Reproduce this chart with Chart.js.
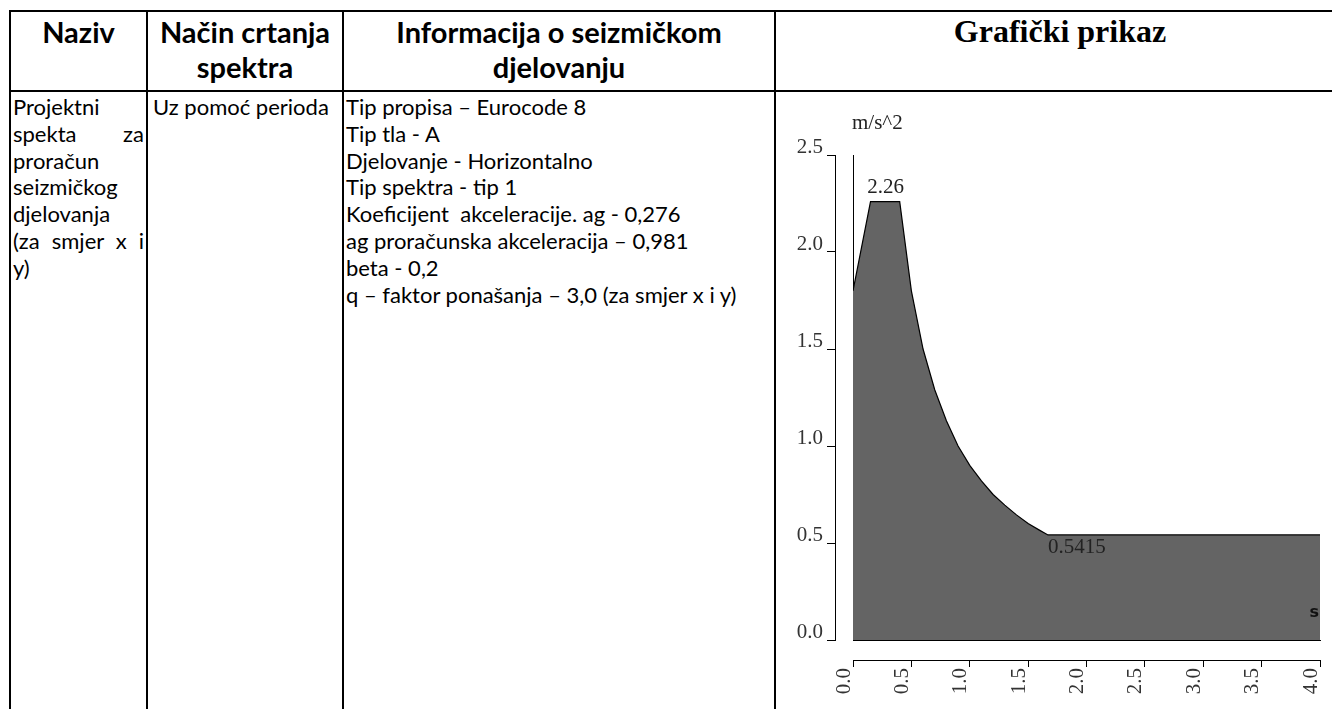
<!DOCTYPE html>
<html>
<head>
<meta charset="utf-8">
<title>Projektni spektar</title>
<script src="https://cdn.jsdelivr.net/npm/chart.js@4.4.1/dist/chart.umd.min.js"></script>
<style>
  html, body { margin: 0; padding: 0; background: #fff; width: 1332px; height: 709px; overflow: hidden; }
  .cell { position: absolute; box-sizing: border-box; border-left: 2px solid #000; border-top: 2px solid #000; color: #000; }
  .hd { font-family: Lato, sans-serif; font-weight: 700; font-size: 29px; line-height: 35px; text-align: center; padding-top: 2px; }
  .hd.serif { font-family: "Liberation Serif", serif; font-size: 32px; }
  .bd { font-family: Lato, sans-serif; font-size: 22px; line-height: 26.8px; padding: 2px 2px 0 2px; white-space: nowrap; }
  .j { text-align: justify; text-align-last: justify; }
  #chartBox { position: absolute; left: 776px; top: 92px; width: 556px; height: 617px; }
</style>
</head>
<body>
  <!-- zaglavlje -->
  <div class="cell hd" style="left:9px; top:10px; width:137px; height:82px;">Naziv</div>
  <div class="cell hd" style="left:146px; top:10px; width:196px; height:82px;">Način crtanja<br>spektra</div>
  <div class="cell hd" style="left:342px; top:10px; width:432px; height:82px;">Informacija o seizmičkom<br>djelovanju</div>
  <div class="cell hd serif" style="left:774px; top:10px; width:570px; height:82px;">Grafički prikaz</div>

  <!-- sadrzaj -->
  <div class="cell bd" style="left:9px; top:90px; width:137px; height:640px; white-space: normal;">
    <div>Projektni</div>
    <div class="j">spekta za</div>
    <div>proračun</div>
    <div>seizmičkog</div>
    <div>djelovanja</div>
    <div class="j">(za smjer x i</div>
    <div>y)</div>
  </div>
  <div class="cell bd" style="left:146px; top:90px; width:196px; height:640px; padding-left:5px;">Uz pomoć perioda</div>
  <div class="cell bd" style="left:342px; top:90px; width:432px; height:640px;">
    <div>Tip propisa – Eurocode 8</div>
    <div>Tip tla - A</div>
    <div>Djelovanje - Horizontalno</div>
    <div>Tip spektra - tip 1</div>
    <div>Koeficijent&nbsp; akceleracije. ag - 0,276</div>
    <div>ag proračunska akceleracija – 0,981</div>
    <div>beta - 0,2</div>
    <div>q – faktor ponašanja – 3,0 (za smjer x i y)</div>
  </div>
  <div class="cell" style="left:774px; top:90px; width:570px; height:640px;"></div>

  <div id="chartBox"><canvas id="spektarChart"></canvas></div>

<script>
// Podaci ocitani sa grafika
const periodi = [0, 0.15, 0.4, 0.5, 0.6, 0.7, 0.8, 0.9, 1.0, 1.1, 1.2, 1.3, 1.4, 1.5, 1.6, 1.67, 4.0];
const ubrzanja = [1.80, 2.26, 2.26, 1.80, 1.50, 1.29, 1.13, 1.00, 0.90, 0.82, 0.75, 0.695, 0.645, 0.60, 0.565, 0.5415, 0.5415];
const xOznake = [0, 0.5, 1.0, 1.5, 2.0, 2.5, 3.0, 3.5, 4.0];
const yOznake = [0, 0.5, 1.0, 1.5, 2.0, 2.5];
const vrijednostiNaGrafu = [
    { x: 0.28, y: 2.26, tekst: '2.26' },
    { x: 1.67, y: 0.5415, tekst: '0.5415' }
];

const serifFont = { family: '"Liberation Serif", "Times New Roman", serif', size: 21 };

// Tekstovi na grafu (vrijednosti i jedinice)
const oznakePlugin = {
    id: 'oznake',
    afterDatasetsDraw(chart) {
        const { ctx, chartArea, scales: { x, y } } = chart;
        ctx.save();
        ctx.font = '21px "Liberation Serif", serif';
        ctx.fillStyle = '#222';
        ctx.textBaseline = 'alphabetic';

        const vrh = vrijednostiNaGrafu[0];
        ctx.textAlign = 'center';
        ctx.fillText(vrh.tekst, x.getPixelForValue(vrh.x), y.getPixelForValue(vrh.y) - 9);

        const kraj = vrijednostiNaGrafu[1];
        ctx.textAlign = 'left';
        ctx.fillText(kraj.tekst, x.getPixelForValue(kraj.x), y.getPixelForValue(kraj.y) + 18);

        // jedinice osi
        ctx.fillText('m/s^2', chartArea.left - 1, chartArea.top - 26);
        ctx.font = 'bold 16px "DejaVu Sans", sans-serif';
        ctx.fillStyle = '#111';
        ctx.textAlign = 'right';
        ctx.fillText('s', chartArea.right - 1, chartArea.bottom - 23);
        ctx.restore();
    }
};

document.addEventListener('DOMContentLoaded', function () {
    const ctxSpektar = document.getElementById('spektarChart');
    if (!ctxSpektar) {
        console.error('Nema canvasa za graf.');
        return;
    }

    const tacke = periodi.map((t, i) => ({ x: t, y: ubrzanja[i] }));

    new Chart(ctxSpektar, {
        type: 'line',
        data: {
            datasets: [{
                label: 'Sd(T)',
                data: tacke,
                fill: 'origin',
                backgroundColor: '#646464',
                borderColor: '#000',
                borderWidth: 1.2,
                pointRadius: 0,
                tension: 0
            }]
        },
        options: {
            responsive: true,
            maintainAspectRatio: false,
            animation: false,
            layout: { padding: { top: 63, right: 12, bottom: 0, left: 0 } },
            plugins: {
                legend: { display: false },
                tooltip: { enabled: false }
            },
            scales: {
                x: {
                    type: 'linear',
                    position: 'bottom',
                    weight: 1,
                    min: xOznake[0],
                    max: xOznake[xOznake.length - 1],
                    afterBuildTicks: (s) => { s.ticks = xOznake.map(v => ({ value: v })); },
                    afterFit: (s) => { s.height = 49; s.paddingLeft = 0; s.paddingRight = 0; },
                    ticks: {
                        autoSkip: false,
                        minRotation: 90,
                        maxRotation: 90,
                        padding: 1,
                        labelOffset: -9,
                        color: '#333',
                        font: serifFont,
                        callback: (v) => Number(v).toFixed(1)
                    },
                    grid: { drawOnChartArea: false, tickLength: 7, color: '#000', lineWidth: 1 },
                    border: { color: '#000', width: 1 }
                },
                xRazmak: {
                    type: 'linear',
                    position: 'bottom',
                    weight: 0,
                    afterFit: (s) => { s.height = 20; s.paddingLeft = 0; s.paddingRight = 0; },
                    ticks: { display: false },
                    grid: { drawOnChartArea: false, drawTicks: false },
                    border: { color: '#000', width: 1 }
                },
                y: {
                    type: 'linear',
                    position: 'left',
                    weight: 1,
                    min: yOznake[0],
                    max: yOznake[yOznake.length - 1],
                    afterBuildTicks: (s) => { s.ticks = yOznake.map(v => ({ value: v })); },
                    afterFit: (s) => { s.width = 59; s.paddingTop = 0; s.paddingBottom = 0; },
                    ticks: {
                        padding: 4,
                        labelOffset: -8,
                        color: '#333',
                        font: serifFont,
                        callback: (v) => Number(v).toFixed(1)
                    },
                    grid: { drawOnChartArea: false, tickLength: 8, color: '#000', lineWidth: 1 },
                    border: { color: '#000', width: 1 }
                },
                yRazmak: {
                    type: 'linear',
                    position: 'left',
                    weight: 0,
                    afterFit: (s) => { s.width = 18; s.paddingTop = 0; s.paddingBottom = 0; },
                    ticks: { display: false },
                    grid: { drawOnChartArea: false, drawTicks: false },
                    border: { color: '#000', width: 1 }
                }
            }
        },
        plugins: [oznakePlugin]
    });
});
</script>
</body>
</html>
